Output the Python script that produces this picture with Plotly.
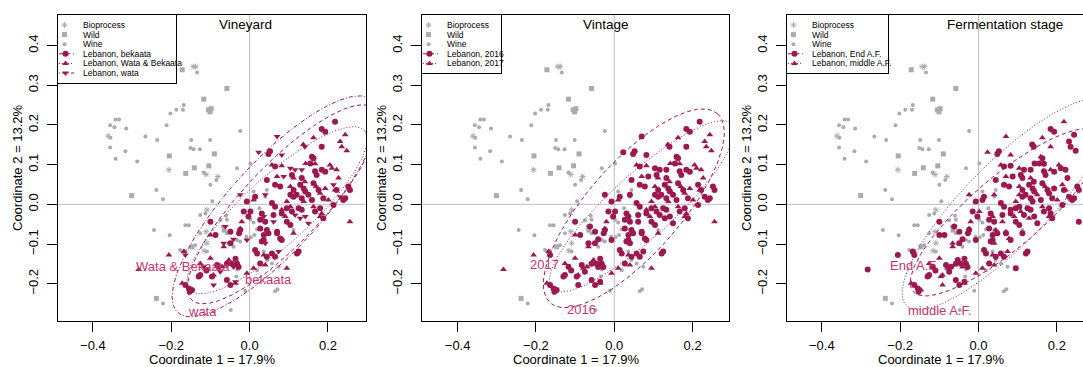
import numpy as np
import plotly.graph_objects as go

# ---------------- data ----------------
grey_x = [-0.144,-0.138,-0.134,-0.172,-0.058,-0.117,-0.105,-0.098,-0.101,-0.168,
          -0.170,-0.187,-0.202,-0.212,-0.024,-0.342,-0.333,-0.356,-0.345,-0.315,
          -0.361,-0.355,-0.356,-0.317,-0.342,-0.287,-0.266,-0.236,-0.149,-0.101,
          -0.151,-0.143,-0.127,-0.090,-0.205,-0.206,-0.141,-0.163,-0.104,-0.117,
          -0.111,-0.081,-0.085,-0.100,-0.032,0.002,-0.238,-0.221,-0.301,-0.095,
          -0.109,-0.113,-0.126,-0.060,-0.058,-0.244,-0.204,-0.164,-0.155,-0.126,
          -0.111,-0.068,-0.065,-0.058,-0.147,-0.139,-0.177,-0.164,-0.116,-0.109,
          0.002,0.010,0.019,0.040,-0.008,0.003,0.012,-0.032,-0.024,-0.053,
          -0.041,0.112,0.036,0.044,0.057,0.074,0.019,-0.011,0.065,0.071,
          -0.034,-0.032,-0.092,-0.066,-0.238,-0.221,-0.048,0.010,0.044,0.040,
          -0.109,-0.075,-0.010,0.025]
grey_y = [0.347,0.347,0.332,0.339,0.292,0.265,0.238,0.241,0.233,0.250,
          0.238,0.238,0.229,0.199,0.185,0.214,0.214,0.199,0.194,0.191,
          0.172,0.168,0.143,0.134,0.115,0.108,0.171,0.162,0.162,0.162,
          0.142,0.139,0.139,0.127,0.122,0.087,0.092,0.078,0.097,0.080,
          0.075,0.070,0.061,0.049,0.091,0.103,0.036,0.013,0.022,0.008,
          -0.014,-0.023,-0.027,-0.029,-0.039,-0.065,-0.078,-0.053,-0.053,-0.073,
          -0.069,-0.056,-0.065,-0.073,-0.107,-0.103,-0.115,-0.117,-0.117,-0.119,
          -0.039,-0.046,-0.063,-0.065,-0.082,-0.083,-0.077,-0.090,-0.094,-0.098,
          -0.107,-0.065,-0.119,-0.140,-0.149,-0.157,-0.166,-0.218,-0.219,-0.214,
          -0.182,-0.164,-0.182,-0.157,-0.237,-0.250,-0.266,0.032,0.036,0.019,
          -0.098,-0.040,0.005,-0.010]
# S = Bioprocess, Q = Wild, O = Wine
grey_type = ("S S O Q Q Q Q Q Q O  O O O O O O O O O O  S O O O O O O O O O "
             "O O O Q Q S Q Q Q O  S S O O O O O O Q O  S O O O O O O O O O "
             "S O Q O Q O O O S O  O O O O O O O O O O  O O O O O O O O O O "
             "O O O O Q O O O O O  S O O O").split()

leb_x = [0.218,0.184,0.193,0.163,0.244,0.070,0.137,0.141,0.184,0.231,
         0.235,0.023,0.048,0.082,0.248,0.159,0.163,0.143,0.155,0.167,
         0.057,0.065,0.082,0.104,0.116,0.133,0.205,0.210,0.167,0.171,
         0.184,0.193,0.222,0.227,0.044,0.070,0.087,0.108,0.112,0.133,
         0.141,0.065,0.078,0.104,0.112,0.129,0.138,0.142,0.163,0.170,
         0.176,0.193,0.214,0.218,0.252,0.256,0.104,0.112,0.120,0.133,
         0.138,0.150,0.159,0.180,0.188,0.201,0.231,0.239,-0.024,-0.007,
         0.014,0.010,0.040,0.057,0.065,0.095,0.104,0.125,0.133,0.163,
         0.167,0.180,0.184,0.214,0.002,-0.003,0.031,0.036,0.027,0.040,
         0.061,0.061,0.082,0.091,0.095,0.104,0.129,0.142,0.150,0.180,
         0.188,0.256,-0.100,-0.020,-0.024,-0.027,0.044,0.048,0.070,0.078,
         0.082,0.112,0.036,0.040,-0.007,-0.100,-0.066,-0.041,0.014,0.019,
         0.036,0.044,0.057,0.065,0.074,0.125,0.095,0.010,-0.036,-0.032,
         -0.028,-0.041,-0.045,-0.053,-0.058,-0.079,-0.070,-0.092,-0.126,-0.130,
         -0.092,-0.049,-0.036,-0.206,-0.168,-0.164,-0.283,-0.172,-0.164,-0.155,
         -0.153,-0.147,-0.126,-0.117,-0.110,
         -0.015,0.108,0.082,0.095,0.116,0.070,0.027,0.036,0.031,-0.024,
         -0.062,-0.049,-0.066,-0.049,-0.087,-0.100,-0.083,-0.075,-0.096,-0.058,
         -0.036,-0.007,0.121,0.027,0.040,0.244,0.222,0.052]
leb_y = [0.208,0.190,0.183,0.168,0.175,0.171,0.151,0.145,0.145,0.158,
         0.145,0.131,0.127,0.124,0.135,0.120,0.116,0.103,0.103,0.102,
         0.099,0.095,0.097,0.091,0.087,0.087,0.099,0.091,0.083,0.074,
         0.087,0.082,0.087,0.066,0.061,0.070,0.070,0.074,0.066,0.066,
         0.057,0.049,0.045,0.045,0.036,0.049,0.040,0.032,0.053,0.045,
         0.036,0.040,0.049,0.036,0.045,0.036,0.024,0.019,0.024,0.015,
         0.007,0.024,0.011,0.028,0.015,0.011,0.019,0.011,0.024,0.007,
         0.019,0.011,0.024,0.003,-0.006,0.007,-0.006,-0.010,-0.014,-0.006,
         -0.018,-0.010,-0.023,-0.002,-0.018,-0.031,-0.023,-0.031,-0.039,-0.044,
         -0.044,-0.027,-0.023,-0.031,-0.044,-0.052,-0.035,-0.031,-0.048,-0.031,
         -0.035,-0.044,-0.044,-0.044,-0.065,-0.073,-0.065,-0.073,-0.073,-0.086,
         -0.090,-0.073,-0.090,-0.098,-0.090,-0.077,-0.098,-0.088,-0.115,-0.124,
         -0.128,-0.132,-0.124,-0.132,-0.119,-0.119,-0.161,-0.161,-0.137,-0.150,
         -0.158,-0.158,-0.150,-0.140,-0.150,-0.161,-0.157,-0.178,-0.178,-0.182,
         -0.203,-0.203,-0.199,-0.128,-0.119,-0.128,-0.164,-0.199,-0.203,-0.212,
         -0.220,-0.216,-0.149,-0.157,-0.167,
         -0.018,-0.018,-0.014,-0.010,-0.027,-0.069,-0.061,-0.077,-0.094,-0.061,
         -0.056,-0.069,-0.107,-0.098,-0.077,-0.136,-0.153,-0.170,-0.182,-0.191,
         -0.195,-0.174,-0.124,-0.149,-0.153,0.015,0.036,0.134]
# B = bekaata, WB = Wata & Bekaata, W = wata
leb_vineyard = ("B B B WB WB W WB W B WB  WB W B W WB B B WB B WB  WB B WB W W W WB WB B B "
                "B B WB WB B WB W B WB B  WB B B WB B B B B B WB  B WB W WB B B B B B B "
                "WB B B WB B WB W B W B  B WB W B B WB WB B B WB  B B WB B B B B W B B "
                "W B B WB B B W W W WB  B WB B WB B B B B B B  B WB B W W WB W W B B "
                "WB B B B W B WB WB B B  B W B WB B WB WB WB B B  W B WB WB WB W WB WB B B "
                "B B WB W B  B B WB B W B B B B WB  W B WB B B WB B W B B  W WB B B WB B B B").split()
# 6 = 2016, 7 = 2017
leb_vintage = ("6 6 6 7 7 6 7 6 6 7  7 6 6 6 7 6 6 7 6 7  7 6 7 6 6 6 7 7 6 6 "
               "6 6 7 7 6 7 6 6 7 6  7 6 6 7 6 6 6 6 6 7  6 7 6 7 6 6 6 6 6 6 "
               "7 6 6 7 6 7 6 6 6 6  6 7 6 6 6 7 7 6 6 7  6 6 7 6 6 6 6 6 6 6 "
               "6 6 6 7 6 6 6 6 6 7  6 7 6 7 6 6 6 6 6 6  6 7 6 6 6 7 6 6 6 6 "
               "7 6 6 6 6 6 7 7 6 6  6 6 6 7 6 7 7 7 6 6  6 6 7 7 7 6 7 7 6 6 "
               "6 6 7 6 6  6 6 7 6 6 6 6 6 6 7  6 6 7 6 6 7 6 6 6 6  6 7 6 6 7 6 6 6").split()
# E = End A.F., M = middle A.F.
leb_stage = ("M E E M E M E E M E  E M E M E M E E E E  M E E M E E M E E E "
             "M E E E E M E E E M  E E E M E E E E E M  E E M E E E M E E E "
             "E M E E E M E E M E  E E M E E M E E E M  E E E E M E E M E E "
             "M E E M E E M E E M  E E E M E E M E E M  E E E M E E M E E E "
             "M E E E M E E M E E  E M E E E M E M E E  M E M E E E E M E E "
             "E M M E E  E M E E E M E E E M  E E M E E M E E M E  E M E E M E M E").split()

grey_names = {"S": "Bioprocess", "Q": "Wild", "O": "Wine"}
vineyard_names = {"B": "bekaata", "WB": "Wata & Bekaata", "W": "wata"}
vintage_names = {"6": "2016", "7": "2017"}
stage_names = {"E": "End A.F.", "M": "middle A.F."}

# confidence ellipses: centre x, centre y, semi-major, semi-minor, angle (deg)
ell_vineyard = {"B": (0.085, 0.000, 0.335, 0.100, 46),
                "WB": (0.070, -0.015, 0.300, 0.085, 42),
                "W": (0.065, -0.005, 0.365, 0.115, 47)}
ell_vintage = {"6": (0.050, -0.010, 0.320, 0.117, 48),
               "7": (0.070, -0.005, 0.310, 0.080, 42)}
ell_stage = {"E": (0.070, -0.020, 0.310, 0.090, 40),
             "M": (0.070, 0.000, 0.360, 0.105, 45)}

# label positions of groups
lab_vineyard = {"WB": (-0.171, -0.157), "B": (0.048, -0.189), "W": (-0.121, -0.269)}
lab_vintage = {"7": (-0.179, -0.151), "6": (-0.084, -0.265)}
lab_stage = {"E": (-0.166, -0.155), "M": (-0.098, -0.268)}

# ---------------- styling ----------------
W, H = 1083, 367
FONT = "Arial, Liberation Sans, Helvetica, sans-serif"
CRIMSON = "#9b1850"
LABCOL = "#c4346f"
GREY = "#ababab"
grey_sym = {"S": "asterisk-open", "Q": "square", "O": "circle"}
grey_size = {"S": 5, "Q": 5, "O": 4}
sym_by = {
    "vineyard": {"B": "circle", "WB": "triangle-up", "W": "triangle-down"},
    "vintage": {"6": "circle", "7": "triangle-up"},
    "stage": {"E": "circle", "M": "triangle-up"},
}
dash_by = {
    "vineyard": {"B": "4px,3px", "WB": "1px,2px", "W": "1px,2px,4px,2px"},
    "vintage": {"6": "4px,3px", "7": "1px,2px"},
    "stage": {"E": "4px,3px", "M": "1px,2px"},
}

panels = [
    dict(key="vineyard", title="Vineyard", codes=leb_vineyard, names=vineyard_names,
         order=["B", "WB", "W"], ell=ell_vineyard, lab=lab_vineyard,
         left=58, right=366, xr=[-0.489, 0.297], title_x=245, leg_w=118, show_right=True),
    dict(key="vintage", title="Vintage", codes=leb_vintage, names=vintage_names,
         order=["6", "7"], ell=ell_vintage, lab=lab_vintage,
         left=422, right=729, xr=[-0.491, 0.293], title_x=606, leg_w=79, show_right=True),
    dict(key="stage", title="Fermentation stage", codes=leb_stage, names=stage_names,
         order=["E", "M"], ell=ell_stage, lab=lab_stage,
         left=787, right=1083, xr=[-0.489, 0.2667], title_x=1005, leg_w=101, show_right=False),
]

TOP, BOT = 15, 321
yr = [-0.294, 0.477]

fig = go.Figure()
layout = dict(width=W, height=H, margin=dict(l=0, r=0, t=0, b=0),
              paper_bgcolor="white", plot_bgcolor="rgba(0,0,0,0)", showlegend=False,
              font=dict(family=FONT, size=13, color="black"))
annotations = []
shapes = []

def px2paper_x(p):
    return p / W

def px2paper_y(p):
    return (H - p) / H

t = np.linspace(0, 2 * np.pi, 240)

for i, P in enumerate(panels):
    n = i + 1
    xa = "x" if n == 1 else f"x{n}"
    ya = "y" if n == 1 else f"y{n}"
    xkey = "xaxis" if n == 1 else f"xaxis{n}"
    ykey = "yaxis" if n == 1 else f"yaxis{n}"
    layout[xkey] = dict(domain=[px2paper_x(P["left"]), px2paper_x(P["right"])], range=P["xr"],
                        anchor=ya, showgrid=False, zeroline=False, showline=True,
                        mirror=True, linecolor="black", linewidth=1,
                        ticks="outside", ticklen=10, tickcolor="black",
                        tickvals=[-0.4, -0.2, 0.0, 0.2],
                        ticktext=["\u22120.4", "\u22120.2", "0.0", "0.2"],
                        tickfont=dict(size=13, family=FONT), ticklabelstandoff=2)
    layout[ykey] = dict(domain=[px2paper_y(BOT), px2paper_y(TOP)], range=yr, anchor=xa,
                        showgrid=False, zeroline=False, showline=True,
                        mirror=P["show_right"], linecolor="black", linewidth=1,
                        ticks="outside", ticklen=10, tickcolor="black",
                        tickvals=[-0.2, -0.1, 0.0, 0.1, 0.2, 0.3, 0.4],
                        ticktext=["\u22120.2", "\u22120.1", "0.0", "0.1", "0.2", "0.3", "0.4"],
                        tickangle=-90, tickfont=dict(size=13, family=FONT),
                        ticklabelstandoff=4)
    # reference lines at 0
    shapes.append(dict(type="line", xref=xa, yref=f"{ya} domain", x0=0, x1=0, y0=0, y1=1,
                       line=dict(color="#bdbdbd", width=1), layer="below"))
    shapes.append(dict(type="line", xref=f"{xa} domain", yref=ya, x0=0, x1=1, y0=0, y1=0,
                       line=dict(color="#bdbdbd", width=1), layer="below"))
    # grey reference groups
    for code in ["S", "Q", "O"]:
        xs = [x for x, c in zip(grey_x, grey_type) if c == code]
        ys = [y for y, c in zip(grey_y, grey_type) if c == code]
        mk = dict(symbol=grey_sym[code], size=grey_size[code], color=GREY)
        if code == "S":
            mk["line"] = dict(color=GREY, width=1)
        else:
            mk["line"] = dict(width=0)
        fig.add_trace(go.Scatter(x=xs, y=ys, mode="markers", xaxis=xa, yaxis=ya,
                                 marker=mk, hoverinfo="skip"))
    # ellipses
    for code in P["order"]:
        cx, cy, a, b, ang = P["ell"][code]
        th = np.deg2rad(ang)
        ex = cx + a * np.cos(t) * np.cos(th) - b * np.sin(t) * np.sin(th)
        ey = cy + a * np.cos(t) * np.sin(th) + b * np.sin(t) * np.cos(th)
        fig.add_trace(go.Scatter(x=ex, y=ey, mode="lines", xaxis=xa, yaxis=ya,
                                 line=dict(color=CRIMSON, width=1, dash=dash_by[P["key"]][code]),
                                 hoverinfo="skip"))
    # Lebanon points
    for code in P["order"]:
        xs = [x for x, c in zip(leb_x, P["codes"]) if c == code]
        ys = [y for y, c in zip(leb_y, P["codes"]) if c == code]
        fig.add_trace(go.Scatter(x=xs, y=ys, mode="markers", xaxis=xa, yaxis=ya,
                                 marker=dict(symbol=sym_by[P["key"]][code], size=6,
                                             color=CRIMSON, line=dict(width=0)),
                                 hoverinfo="skip"))
    # group labels
    for code in P["order"]:
        lx, ly = P["lab"][code]
        annotations.append(dict(x=lx, y=ly, xref=xa, yref=ya, text=P["names"][code],
                                showarrow=False, xanchor="center", yanchor="middle",
                                font=dict(size=13, color=LABCOL, family=FONT)))
    # panel title
    annotations.append(dict(x=px2paper_x(P["title_x"]), y=px2paper_y(24.5), xref="paper",
                            yref="paper", text=P["title"], showarrow=False,
                            xanchor="center", yanchor="middle",
                            font=dict(size=13.5, family=FONT)))
    # axis titles
    annotations.append(dict(x=px2paper_x((P["left"] + P["left"] + 308) / 2), y=px2paper_y(359.5),
                            xref="paper", yref="paper", text="Coordinate 1 = 17.9%",
                            showarrow=False, xanchor="center", yanchor="middle",
                            font=dict(size=13, family=FONT)))
    annotations.append(dict(x=px2paper_x(P["left"] - 41), y=px2paper_y(168), xref="paper",
                            yref="paper", text="Coordinate 2 = 13.2%", showarrow=False,
                            xanchor="center", yanchor="middle",
                            textangle=-90, font=dict(size=13, family=FONT)))

    # ---- legend box (own little axes, pixel units) ----
    ln = n + 3
    lxa, lya = f"x{ln}", f"y{ln}"
    items = [("Bioprocess", "grey", "S"), ("Wild", "grey", "Q"), ("Wine", "grey", "O")]
    for code in P["order"]:
        items.append(("Lebanon, " + P["names"][code], "leb", code))
    row = 9.6
    lh = 10 + row * (len(items) - 1) + 9.5
    lw = P["leg_w"]
    layout[f"xaxis{ln}"] = dict(domain=[px2paper_x(P["left"]), px2paper_x(P["left"] + lw)],
                                range=[0, lw], anchor=lya, showgrid=False, zeroline=False,
                                showticklabels=False, ticks="", showline=True, mirror=True,
                                linecolor="black", linewidth=1, fixedrange=True)
    layout[f"yaxis{ln}"] = dict(domain=[px2paper_y(TOP + lh), px2paper_y(TOP)],
                                range=[lh, 0], anchor=lxa, showgrid=False, zeroline=False,
                                showticklabels=False, ticks="", showline=True, mirror=True,
                                linecolor="black", linewidth=1, fixedrange=True)
    for k, (label, kind, code) in enumerate(items):
        yy = 10 + row * k
        if kind == "grey":
            mk = dict(symbol=grey_sym[code], size=grey_size[code], color=GREY)
            if code == "S":
                mk["line"] = dict(color=GREY, width=1)
            else:
                mk["line"] = dict(width=0)
            fig.add_trace(go.Scatter(x=[6.5], y=[yy], mode="markers", xaxis=lxa, yaxis=lya,
                                     marker=mk, hoverinfo="skip"))
        else:
            fig.add_trace(go.Scatter(x=[1, 16], y=[yy, yy], mode="lines", xaxis=lxa, yaxis=lya,
                                     line=dict(color=CRIMSON, width=1,
                                               dash=dash_by[P["key"]][code]),
                                     hoverinfo="skip"))
            fig.add_trace(go.Scatter(x=[7.5], y=[yy], mode="markers", xaxis=lxa, yaxis=lya,
                                     marker=dict(symbol=sym_by[P["key"]][code], size=6,
                                                 color=CRIMSON, line=dict(width=0)),
                                     hoverinfo="skip"))
        annotations.append(dict(x=23, y=yy, xref=lxa, yref=lya, text=label, showarrow=False,
                                xanchor="left", yanchor="middle",
                                font=dict(size=8.5, family=FONT, color="black")))

layout["annotations"] = annotations
layout["shapes"] = shapes
fig.update_layout(**layout)
fig.write_html("out.html")
